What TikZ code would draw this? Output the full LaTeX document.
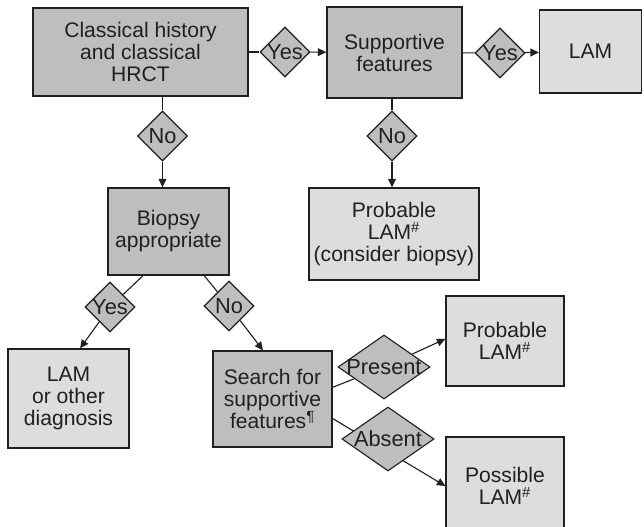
\documentclass[tikz,border=0pt]{standalone}
\usepackage{fontspec}
\setmainfont{Liberation Sans}
\usetikzlibrary{arrows.meta}
\usetikzlibrary{shapes.geometric}

\definecolor{boxdark}{RGB}{190,190,192}
\definecolor{boxlight}{RGB}{220,221,223}
\definecolor{inkgray}{RGB}{35,31,32}

\tikzset{
  every node/.style={font=\fontsize{15}{15.6}\selectfont, text=inkgray},
  stepdark/.style={rectangle, fill=boxdark, draw=inkgray, line width=0.9pt,
    align=center, inner sep=0pt},
  steplight/.style={stepdark, fill=boxlight},
  choice/.style={diamond, fill=boxdark, draw=inkgray, line width=0.8pt,
    font=\fontsize{15.5}{16}\selectfont,
    inner sep=0pt, minimum width=1.25cm, minimum height=1.25cm},
  widechoice/.style={choice, minimum width=2.3cm, minimum height=1.6cm},
  link/.style={draw=inkgray, line width=0.8pt},
  arrow/.style={link, -{Triangle[length=6pt,width=5.5pt]}},
}

\begin{document}
\begin{tikzpicture}[x=0.025cm, y=-0.025cm]
  \useasboundingbox (0,0) rectangle (644,526);

  \node[stepdark, minimum width=5.375cm, minimum height=2.2cm] (hist) at (140.5,52) {Classical history\\and classical\\HRCT};
  \node[stepdark, minimum width=3.375cm, minimum height=2.275cm] (supp) at (394.5,52.5) {Supportive\\features};
  \node[steplight, minimum width=2.55cm, minimum height=2.075cm] (lam) at (590.5,51.5) {LAM};
  \node[choice] (yes1) at (285,52) {\makebox[0pt]{Yes}};
  \node[choice] (yes2) at (500,53) {\makebox[0pt]{Yes}};
  \node[choice] (no1) at (162.5,136) {\makebox[0pt]{No}};
  \node[choice] (no2) at (392,136) {\makebox[0pt]{No}};

  \node[stepdark, minimum width=3.025cm, minimum height=2.175cm] (biopsy) at (168.5,231.5) {Biopsy\\appropriate};
  \node[steplight, minimum width=4.25cm, minimum height=2.3cm] (prob1) at (394,234) {Probable\\LAM\textsuperscript{\#}\\(consider biopsy)};
  \node[choice] (yes3) at (110,307) {\makebox[0pt]{Yes}};
  \node[choice] (no3) at (229,306) {\makebox[0pt]{No}};

  \node[steplight, minimum width=3.025cm, minimum height=2.475cm] (lamother) at (68.5,398.5) {LAM\\or other\\diagnosis};
  \node[stepdark, minimum width=2.975cm, minimum height=2.4cm] (search) at (272.5,399) {Search for\\supportive\\features\textsuperscript{¶}};
  \node[steplight, minimum width=2.95cm, minimum height=2.25cm] (prob2) at (505,341) {Probable\\LAM\textsuperscript{\#}};
  \node[steplight, minimum width=2.95cm, minimum height=2.45cm] (possible) at (505,486) {Possible\\LAM\textsuperscript{\#}};
  \node[widechoice] (present) at (384,367) {\makebox[0pt]{Present}};

  % the line to Possible runs straight on behind the Absent diamond
  \draw[arrow] (search.-18) -- (possible.west);
  \node[widechoice] (absent) at (388,439) {\makebox[0pt]{Absent}};

  \draw[link] (hist) -- (yes1);
  \draw[arrow] (yes1) -- (supp);
  \draw[link] (supp) -- (yes2);
  \draw[arrow] (yes2) -- (lam);

  \draw[link] (no1.north |- hist.south) -- (no1);
  \draw[arrow] (no1) -- (no1.south |- biopsy.north);
  \draw[link] (no2.north |- supp.south) -- (no2);
  \draw[arrow] (no2) -- (no2.south |- prob1.north);

  \draw[link] (biopsy.-120) -- (yes3);
  \draw[arrow] (yes3) -- (lamother.77);
  \draw[link] (biopsy.-51) -- (no3);
  \draw[arrow] (no3) -- (search.101);

  \draw[link] (search.11) -- (present);
  \draw[arrow] (present) -- (prob2.178);
\end{tikzpicture}
\end{document}
